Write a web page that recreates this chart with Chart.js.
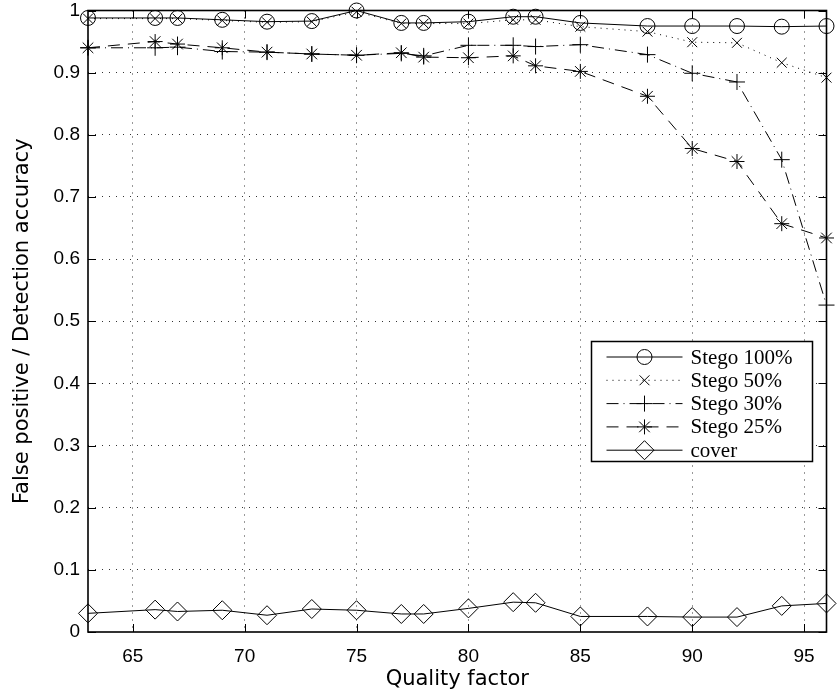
<!DOCTYPE html>
<html>
<head>
<meta charset="utf-8">
<script src="https://cdn.jsdelivr.net/npm/chart.js@4/dist/chart.umd.min.js"></script>
<style>
  html, body { margin: 0; padding: 0; background: #fff; }
  #wrap { width: 837px; height: 698px; }
</style>
</head>
<body>
<div id="wrap"><canvas id="chart"></canvas></div>
<script>
/* DATOS */
const qualityFactors = [63, 66, 67, 69, 71, 73, 75, 77, 78, 80, 82, 83, 85, 88, 90, 92, 94, 96];
const stego100 = [0.988, 0.988, 0.988, 0.985, 0.982, 0.983, 1.000, 0.980, 0.980, 0.982, 0.990, 0.990, 0.980, 0.975, 0.975, 0.975, 0.974, 0.975];
const stego50  = [0.987, 0.987, 0.987, 0.984, 0.981, 0.982, 0.998, 0.979, 0.979, 0.979, 0.985, 0.985, 0.974, 0.966, 0.949, 0.948, 0.916, 0.892];
const stego30  = [0.940, 0.940, 0.941, 0.934, 0.933, 0.930, 0.928, 0.931, 0.927, 0.944, 0.944, 0.942, 0.945, 0.929, 0.899, 0.885, 0.760, 0.526];
const stego25  = [0.940, 0.950, 0.946, 0.940, 0.933, 0.930, 0.928, 0.932, 0.925, 0.924, 0.927, 0.911, 0.902, 0.862, 0.778, 0.757, 0.657, 0.634];
const cover    = [0.030, 0.036, 0.033, 0.035, 0.027, 0.037, 0.035, 0.029, 0.029, 0.038, 0.048, 0.047, 0.025, 0.025, 0.024, 0.024, 0.042, 0.046];

const seriesLabels = ["Stego 100%", "Stego 50%", "Stego 30%", "Stego 25%", "cover"];
const xTicks = [65, 70, 75, 80, 85, 90, 95];
const yTicks = [0, 0.1, 0.2, 0.3, 0.4, 0.5, 0.6, 0.7, 0.8, 0.9, 1];

function points(values) {
  return qualityFactors.map((q, i) => ({ x: q, y: values[i] }));
}

function series(label, values, pointStyle, radius, dash) {
  return {
    label,
    data: points(values),
    borderColor: "#000",
    borderWidth: 1,
    borderDash: dash,
    pointStyle,
    pointRadius: radius,
    pointBorderColor: "#000",
    pointBorderWidth: 1,
    pointBackgroundColor: "rgba(0,0,0,0)",
    tension: 0,
    clip: false
  };
}

const datasets = [
  series(seriesLabels[0], stego100, "circle", 7.5, []),
  series(seriesLabels[1], stego50, "crossRot", 7, [1, 5]),
  series(seriesLabels[2], stego30, "cross", 8, [12, 5, 1, 5]),
  series(seriesLabels[3], stego25, "star", 7.5, [12, 8]),
  series(seriesLabels[4], cover, "rectRot", 9.5, [])
];

/* MARCO Y TICKS HACIA ADENTRO */
const framePlugin = {
  id: "frame",
  beforeDatasetsDraw(chart) {
    const { ctx, chartArea: a, scales } = chart;
    ctx.save();
    ctx.strokeStyle = "#000";
    ctx.lineWidth = 1;
    ctx.setLineDash([]);
    ctx.beginPath();
    xTicks.forEach(v => {
      const px = Math.round(scales.x.getPixelForValue(v)) + 0.5;
      ctx.moveTo(px, a.bottom); ctx.lineTo(px, a.bottom - 8);
      ctx.moveTo(px, a.top); ctx.lineTo(px, a.top + 8);
    });
    yTicks.forEach(v => {
      const py = Math.round(scales.y.getPixelForValue(v)) + 0.5;
      ctx.moveTo(a.left, py); ctx.lineTo(a.left + 8, py);
      ctx.moveTo(a.right, py); ctx.lineTo(a.right - 8, py);
    });
    ctx.stroke();
    ctx.lineWidth = 1.6;
    ctx.strokeRect(a.left, a.top, a.right - a.left, a.bottom - a.top);
    ctx.restore();
  }
};

/* LEYENDA */
const legendPlugin = {
  id: "boxLegend",
  afterDraw(chart) {
    const { ctx, chartArea: a } = chart;
    const w = 221, h = 120;
    const x0 = a.right - 14 - w;
    const y0 = a.top + 331;
    ctx.save();
    ctx.fillStyle = "#fff";
    ctx.fillRect(x0, y0, w, h);
    ctx.strokeStyle = "#000";
    ctx.lineWidth = 1.5;
    ctx.setLineDash([]);
    ctx.strokeRect(x0, y0, w, h);
    ctx.font = "21px 'Liberation Serif', serif";
    ctx.textBaseline = "middle";
    chart.data.datasets.forEach((ds, i) => {
      const y = y0 + 15.5 + i * 23.3;
      ctx.strokeStyle = "#000";
      ctx.lineWidth = 1;
      ctx.setLineDash(ds.borderDash);
      ctx.beginPath();
      ctx.moveTo(x0 + 15, y);
      ctx.lineTo(x0 + 91, y);
      ctx.stroke();
      ctx.setLineDash([]);
      ctx.fillStyle = "rgba(0,0,0,0)";
      Chart.helpers.drawPoint(ctx, {
        pointStyle: ds.pointStyle, radius: ds.pointRadius, rotation: 0, borderWidth: 1
      }, x0 + 53, y);
      ctx.fillStyle = "#000";
      ctx.fillText(ds.label, x0 + 99, y + 1);
    });
    ctx.restore();
  }
};

function gridColor(ctx) {
  const v = ctx.tick ? ctx.tick.value : null;
  return (v === 0 || v === 1) ? "rgba(0,0,0,0)" : "#333";
}

/* GRAFICO */
const chart = new Chart(document.getElementById("chart"), {
  type: "line",
  data: { datasets },
  plugins: [framePlugin, legendPlugin],
  options: {
    responsive: true,
    maintainAspectRatio: false,
    animation: false,
    devicePixelRatio: 1,
    layout: { padding: { left: 0, right: 5, top: 7, bottom: 0 } },
    plugins: { legend: { display: false }, tooltip: { enabled: false } },
    scales: {
      x: {
        type: "linear",
        min: 63,
        max: 96,
        afterBuildTicks: s => { s.ticks = xTicks.map(v => ({ value: v })); },
        afterFit: s => { s.height = 66; s.paddingLeft = 0; s.paddingRight = 0; },
        grid: { color: gridColor, lineWidth: 1, drawTicks: false },
        border: { display: false, dash: [1, 6] },
        ticks: {
          color: "#000",
          padding: 13,
          maxRotation: 0,
          font: { family: "'Liberation Sans', Arial, sans-serif", size: 19 }
        },
        title: {
          display: true,
          text: "Quality factor",
          color: "#000",
          padding: { top: 0, bottom: 6 },
          font: { family: "'DejaVu Sans', sans-serif", size: 21 }
        }
      },
      y: {
        min: 0,
        max: 1,
        afterBuildTicks: s => { s.ticks = yTicks.map(v => ({ value: v })); },
        afterFit: s => { s.width = 88; s.paddingTop = 0; s.paddingBottom = 0; },
        grid: { color: gridColor, lineWidth: 1, drawTicks: false },
        border: { display: false, dash: [1, 6] },
        ticks: {
          color: "#000",
          padding: 8,
          font: { family: "'Liberation Sans', Arial, sans-serif", size: 19 },
          callback: v => (v === 0 || v === 1) ? String(v) : v.toFixed(1)
        },
        title: {
          display: true,
          text: "False positive / Detection accuracy",
          color: "#000",
          padding: { top: 10, bottom: 0 },
          font: { family: "'DejaVu Sans', sans-serif", size: 21 }
        }
      }
    }
  }
});
</script>
</body>
</html>
